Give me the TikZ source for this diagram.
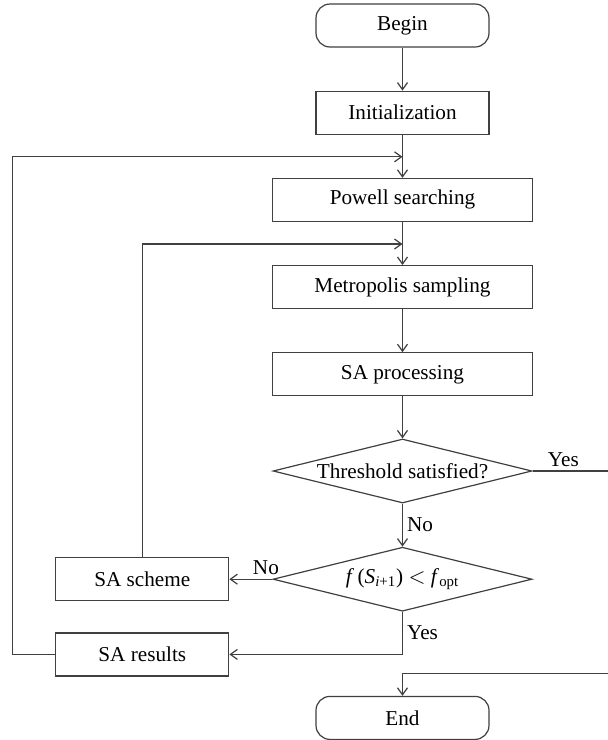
\documentclass[tikz,border=0pt]{standalone}
\usepackage{fontspec}
\setmainfont{Liberation Serif}
\usetikzlibrary{shapes.geometric, arrows.meta, positioning}
\tikzstyle{block} = [rectangle, minimum width=86.5pt, minimum height=21.5pt,
    text centered, font=\fontsize{10.6}{12}\selectfont,
    draw=black!75, line width=0.6pt]
\tikzstyle{wide} = [block, minimum width=130pt]
\tikzstyle{startstop} = [block, rounded corners=7pt]
\tikzstyle{decision} = [diamond, aspect=4, inner sep=0pt,
    minimum width=129.5pt, minimum height=32pt,
    font=\fontsize{10.6}{12}\selectfont, draw=black!75, line width=0.6pt]
\tikzstyle{tag} = [font=\fontsize{10.6}{12}\selectfont, inner sep=2pt]
\tikzstyle{arrow} = [line width=0.6pt, draw=black!75,
    -{Straight Barb[length=3.5pt,width=5pt]}]

\begin{document}
\begin{tikzpicture}
  \path[use as bounding box, fill=white] (0,0) rectangle (304pt,-370pt);

  \node (begin)   [startstop] at (201.25pt,-12.75pt) {Begin};
  \node (init)    [block, below=21.5pt of begin]   {Initialization};
  \node (powell)  [wide, below=21.5pt of init]     {Powell searching};
  \node (metro)   [wide, below=21.5pt of powell]   {Metropolis sampling};
  \node (saproc)  [wide, below=21.5pt of metro]    {SA processing};
  \node (dec1)    [decision, below=21pt of saproc] {Threshold satisfied?};
  \node (dec2)    [decision, below=21.5pt of dec1]
    {\textit{f}\,(\textit{S}\textsubscript{\textit{i}+1}) $<$ \textit{f}\textsubscript{opt}};
  \node (scheme)  [block, left=21.5pt of dec2]     {SA scheme};
  \node (results) [block, below=15.5pt of scheme]  {SA results};
  \node (stop)    [startstop, below=42pt of dec2]  {End};

  \coordinate[below=11pt of init] (j1);
  \coordinate[below=11pt of powell] (j2);
  \coordinate[above=11pt of stop] (ret);

  \draw[arrow] (begin)  -- (init);
  \draw[arrow] (init)   -- (powell);
  \draw[arrow] (powell) -- (metro);
  \draw[arrow] (metro)  -- (saproc);
  \draw[arrow] (saproc) -- (dec1);
  \draw[arrow] (dec1) -- node[tag, right] {No} (dec2);
  \draw[arrow] (dec2) -- node[tag, above, pos=0.15] {No} (scheme);
  \draw[arrow] (dec2) |- node[tag, right, pos=0.25] {Yes} (results);
  \draw[arrow] (scheme.north) |- (j2);
  \draw[arrow] (results.west) -- ++(-21.5pt,0) |- (j1);
  \draw[arrow] (dec1.east) -- node[tag, above, pos=0.4] {Yes} ++(38.5pt,0)
    |- (ret) -- (stop);
\end{tikzpicture}
\end{document}
